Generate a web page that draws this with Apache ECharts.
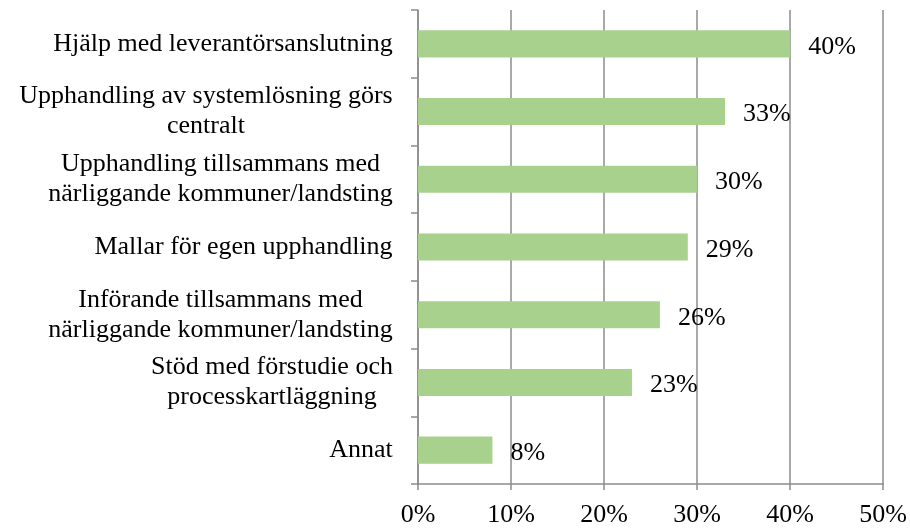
<!DOCTYPE html>
<html>
<head>
<meta charset="utf-8">
<script src="https://cdn.jsdelivr.net/npm/echarts@6/dist/echarts.min.js"></script>
<style>
  html, body { margin: 0; padding: 0; background: #fff; }
  #chart { width: 910px; height: 529px; }
</style>
</head>
<body>
<div id="chart"></div>
<script>
// top-to-bottom order as shown
const categories = [
  'Hjälp med leverantörsanslutning',
  'Upphandling av systemlösning görs\ncentralt',
  'Upphandling tillsammans med\nnärliggande kommuner/landsting',
  'Mallar för egen upphandling',
  'Införande tillsammans med\nnärliggande kommuner/landsting',
  'Stöd med förstudie och\nprocesskartläggning',
  'Annat'
];
const values = [40, 33, 30, 29, 26, 23, 8];
const xTicks = [0, 10, 20, 30, 40, 50];

const font = 'Liberation Serif, Times New Roman, serif';
const fontSize = 26;
const axisGray = '#8c8c8c';

// multi-line category labels: block sits right of the axis, lines centred inside it
const ctx = document.createElement('canvas').getContext('2d');
ctx.font = fontSize + 'px ' + font;
const rich = {};
categories.forEach((c, i) => {
  const w = Math.max(...c.split('\n').map(l => ctx.measureText(l).width));
  rich['c' + i] = { width: Math.ceil(w), align: 'center', fontFamily: font, fontSize: fontSize, lineHeight: 30, color: '#000' };
});

const chart = echarts.init(document.getElementById('chart'));
chart.setOption({
  animation: false,
  backgroundColor: '#fff',
  grid: { left: 418, right: 22, top: 10, bottom: 45 },
  xAxis: {
    type: 'value',
    min: xTicks[0],
    max: xTicks[xTicks.length - 1],
    interval: 10,
    axisLine: { show: true, lineStyle: { color: axisGray, width: 1.5 } },
    axisTick: { show: true, length: 6, lineStyle: { color: axisGray, width: 1.5 } },
    splitLine: { show: true, lineStyle: { color: axisGray, width: 1.5 } },
    axisLabel: {
      formatter: '{value}%',
      color: '#000',
      fontFamily: font,
      fontSize: fontSize,
      margin: 18
    }
  },
  yAxis: {
    type: 'category',
    inverse: true,
    data: categories,
    axisLine: { show: true, lineStyle: { color: axisGray, width: 1.5 } },
    axisTick: { show: true, length: 7, lineStyle: { color: axisGray, width: 1.5 } },
    axisLabel: {
      color: '#000',
      fontFamily: font,
      fontSize: fontSize,
      lineHeight: 30,
      margin: 25,
      align: 'right',
      formatter: (val, idx) => {
        const i = categories.indexOf(val);
        return val.split('\n').map(l => '{c' + i + '|' + l + '}').join('\n');
      },
      rich: rich
    }
  },
  series: [{
    type: 'bar',
    data: values,
    barWidth: '40%',
    itemStyle: { color: '#a9d18e' },
    label: {
      show: true,
      position: 'right',
      distance: 18,
      formatter: '{c}%',
      color: '#000',
      fontFamily: font,
      fontSize: fontSize,
      offset: [0, 3]
    }
  }]
});
</script>
</body>
</html>
